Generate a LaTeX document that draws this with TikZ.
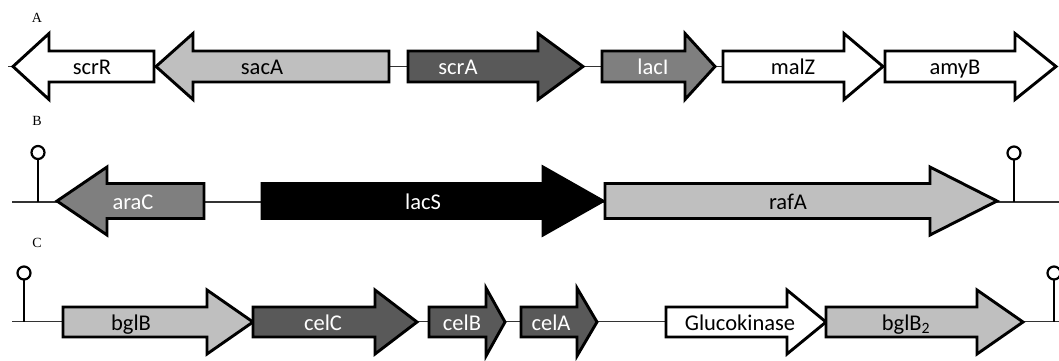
\documentclass[tikz,border=0pt]{standalone}
\usepackage{fontspec}
\setmainfont{Carlito}
\newfontfamily\panelfont{Liberation Serif}
\begin{document}
\begin{tikzpicture}[x=1pt,y=-1pt,
  genebox/.style={draw=black,line width=2.9pt,line join=miter,miter limit=10},
  genelabel/.style={anchor=base,inner sep=0pt,font=\fontsize{22.5}{24}\selectfont},
  panel/.style={anchor=base,inner sep=0pt,font=\panelfont\fontsize{14}{15}\selectfont},
  backbone/.style={draw=black!80,line width=1.1pt},
  termstem/.style={draw=black,line width=2.8pt},
  termhead/.style={draw=black,line width=2.2pt,fill=white}]
\definecolor{lightgene}{HTML}{BFBFBF}
\definecolor{midgene}{HTML}{7F7F7F}
\definecolor{darkgene}{HTML}{595959}

\useasboundingbox (0,0) rectangle (1059,360);
\clip (0,0) rectangle (1059,360);

% gene arrow: name, body end, head base, tip, centre line, fill, text colour, label, label x
\newcommand\gene[9]{%
  \draw[genebox,fill=#6] (#2,#5-\bh) -- (#3,#5-\bh) -- (#3,#5-\hh) -- (#4,#5)
     -- (#3,#5+\hh) -- (#3,#5+\bh) -- (#2,#5+\bh) -- cycle;
  \node[genelabel,text=#7] (#1) at (#9,#5+8) {#8};}
% terminator hairpin: name, x, backbone y, circle centre y
\newcommand\terminator[4]{%
  \coordinate (#1-base) at (#2,#3);
  \coordinate (#1-top) at (#2,#4);
  \draw[termstem] (#1-base) -- ([yshift=-6pt]#1-top);
  \draw[termhead] (#1-top) circle (6.5pt);}

% panel letters
\node[panel] (pA) at (37,22) {A};
\node[panel] (pB) at (37,125) {B};
\node[panel] (pC) at (37,247) {C};

% backbones
\coordinate (a0) at (8,66.5);   \coordinate (a1) at (1056,66.5);
\coordinate (b0) at (12,202);   \coordinate (b1) at (1059,202);
\coordinate (c0) at (12,321.5); \coordinate (c1) at (1059,321.5);
\draw[backbone] (a0) -- (a1);
\draw[backbone] (b0) -- (b1);
\draw[backbone] (c0) -- (c1);

% row A
\def\bh{15.5}\def\hh{33}
\gene{scrR}{154}{49}{13}{66.5}{white}{black}{scrR}{92}
\gene{sacA}{389}{193}{156}{66.5}{lightgene}{black}{sacA}{262}
\gene{scrA}{408}{538}{583}{66.5}{darkgene}{white}{scrA}{458}
\gene{lacI}{602}{685}{715}{66.5}{midgene}{white}{lacI}{653}
\gene{malZ}{723}{844}{883}{66.5}{white}{black}{malZ}{793}
\gene{amyB}{885}{1015}{1056}{66.5}{white}{black}{amyB}{955}

% row B
\def\bh{17.5}\def\hh{34}
\terminator{tB1}{38}{202}{152.5}
\terminator{tB2}{1014}{202}{153}
\gene{araC}{204}{107}{57}{201}{midgene}{white}{araC}{133}
\gene{lacS}{262}{543}{603}{201}{black}{white}{lacS}{423}
\gene{rafA}{605}{930}{997}{201}{lightgene}{black}{rafA}{788}

% row C
\def\bh{15}\def\hh{32}
\terminator{tC1}{24}{321.5}{273}
\terminator{tC2}{1054}{321.5}{273}
\gene{bglB}{63}{207}{253}{322}{lightgene}{black}{bglB}{131}
\gene{celC}{253}{375}{417}{322}{darkgene}{white}{celC}{323}
\def\hh{34}
\gene{celB}{429}{486}{505}{322}{darkgene}{white}{celB}{462}
\gene{celA}{521}{577}{597}{322}{darkgene}{white}{celA}{551}
\def\hh{32}
\gene{gluk}{666}{787}{826}{322}{white}{black}{Glucokinase}{740}
\gene{bglBB}{826}{977}{1023}{322}{lightgene}{black}{bglB\textsubscript{2}}{906}
\end{tikzpicture}
\end{document}
